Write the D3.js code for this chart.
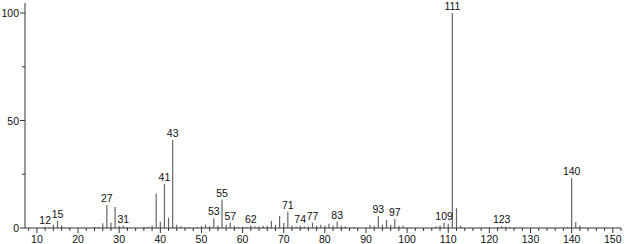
<!DOCTYPE html>
<html lang="en">
<head>
<meta charset="UTF-8">
<title>Mass spectrum</title>
<script src="https://d3js.org/d3.v7.min.js"></script>
<style>
  html, body { margin: 0; padding: 0; background: #fff; }
  text { font-family: "Liberation Sans", "DejaVu Sans", sans-serif; fill: #111; }
</style>
</head>
<body>
<div id="chart"></div>
<script>
// m/z values and relative intensities (%)
const masses = [12, 13, 14, 15, 16, 24, 25, 26, 27, 28, 29, 30, 31, 32,
  36, 37, 38, 39, 40, 41, 42, 43, 44, 45, 46, 47, 49, 50, 51, 52, 53, 54, 55, 56, 57, 58, 59, 60,
  61, 62, 63, 64, 65, 66, 67, 68, 69, 70, 71, 72, 73, 74, 75, 76, 77, 78, 79, 80, 81, 82, 83, 84, 85,
  87, 91, 92, 93, 94, 95, 96, 97, 98, 99, 107, 108, 109, 110, 111, 112, 113,
  122, 123, 124, 125, 139, 140, 141, 142];
const intensities = [0.6, 0.4, 1.5, 3.4, 1.2, 0.4, 0.5, 2.2, 10.7, 2.5, 9.8, 0.9, 1.0, 0.3,
  0.5, 0.6, 1.2, 16, 2.9, 20.5, 4.8, 41, 1.5, 0.8, 0.4, 0.4, 0.5, 0.9, 1.6, 0.8, 4.5, 1.0, 13.2, 1.5, 2.4, 1.0, 0.6, 0.6,
  0.5, 1.0, 0.8, 0.7, 1.0, 0.9, 3.3, 1.5, 5.6, 2.3, 7.6, 1.0, 0.7, 1.0, 0.7, 0.6, 2.5, 1.0, 1.5, 1.0, 2.0, 1.0, 3.0, 1.0, 0.8,
  0.5, 1.4, 1.0, 5.6, 1.5, 3.7, 1.5, 4.2, 1.0, 1.0, 0.8, 1.2, 2.5, 2.0, 100, 9.2, 1.0,
  0.5, 0.8, 0.6, 0.5, 0.5, 23.3, 2.8, 1.0];
const labelled = [12, 15, 27, 31, 41, 43, 53, 55, 57, 62, 71, 74, 77, 83, 93, 97, 109, 111, 123, 140];
const xTicks = [10, 20, 30, 40, 50, 60, 70, 80, 90, 100, 110, 120, 130, 140, 150];
const yTicks = [0, 50, 100];

const width = 626, height = 244;
const svg = d3.select("#chart").append("svg")
  .attr("width", width).attr("height", height);

const x = d3.scaleLinear().domain([7.1, 152]).range([25, 621]);
const y = d3.scaleLinear().domain([0, 100]).range([228, 13]);

const peaks = masses.map((m, i) => ({ m, v: intensities[i] }));

// bars
svg.append("g").selectAll("line")
  .data(peaks).enter().append("line")
  .attr("x1", d => x(d.m)).attr("x2", d => x(d.m))
  .attr("y1", y(0)).attr("y2", d => y(d.v))
  .attr("stroke", "#666").attr("stroke-width", 1.2);

// x axis
const xAxis = svg.append("g").attr("transform", `translate(0,${y(0)})`);
xAxis.append("line").attr("x1", 25).attr("x2", 621).attr("stroke", "#333");
xAxis.selectAll(".minor")
  .data(d3.range(8, 153, 2)).enter().append("line")
  .attr("x1", d => x(d)).attr("x2", d => x(d))
  .attr("y1", 0).attr("y2", d => d % 10 === 0 ? 5 : 3)
  .attr("stroke", "#333");
xAxis.selectAll("text")
  .data(xTicks).enter().append("text")
  .attr("x", d => x(d)).attr("y", 15)
  .attr("text-anchor", "middle").attr("font-size", 10.5)
  .text(d => d);

// y axis
const yAxis = svg.append("g");
yAxis.append("line").attr("x1", 25).attr("x2", 25)
  .attr("y1", 3).attr("y2", y(0)).attr("stroke", "#333");
yAxis.selectAll(".tk")
  .data([0, 25, 50, 75, 100]).enter().append("line")
  .attr("x1", d => d % 50 === 0 ? 20 : 22).attr("x2", 25)
  .attr("y1", d => y(d)).attr("y2", d => y(d))
  .attr("stroke", "#333");
yAxis.selectAll("text")
  .data(yTicks).enter().append("text")
  .attr("x", 19).attr("y", d => y(d) + 4)
  .attr("text-anchor", "end").attr("font-size", 10.5)
  .text(d => d);

// peak labels
svg.append("g").selectAll("text")
  .data(peaks.filter(d => labelled.includes(d.m))).enter().append("text")
  .attr("x", d => x(d.m)).attr("y", d => y(d.v) - 3)
  .attr("text-anchor", "middle").attr("font-size", 10.5)
  .text(d => d.m);
</script>
</body>
</html>
